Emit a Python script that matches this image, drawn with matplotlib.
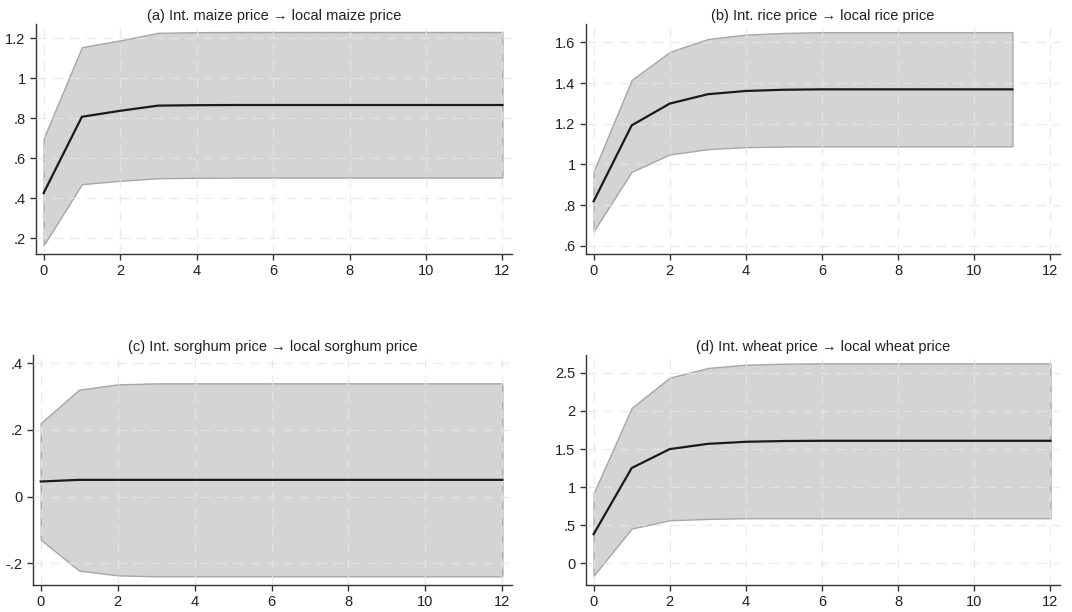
import matplotlib
matplotlib.use("Agg")
import matplotlib.pyplot as plt

plt.rcParams['font.family'] = ['Liberation Sans', 'DejaVu Sans']

# impulse responses: point estimate with lower / upper confidence bands
horizon = list(range(13))

maize_irf = [0.425, 0.806, 0.836, 0.862, 0.864, 0.865, 0.865, 0.865, 0.865, 0.865, 0.865, 0.865, 0.865]
maize_lo = [0.163, 0.469, 0.486, 0.499, 0.501, 0.502, 0.502, 0.502, 0.502, 0.502, 0.502, 0.502, 0.502]
maize_hi = [0.698, 1.154, 1.188, 1.226, 1.229, 1.230, 1.230, 1.230, 1.230, 1.230, 1.230, 1.230, 1.230]

rice_horizon = list(range(12))
rice_irf = [0.819, 1.192, 1.299, 1.345, 1.361, 1.367, 1.369, 1.369, 1.369, 1.369, 1.369, 1.369]
rice_lo = [0.672, 0.964, 1.049, 1.075, 1.085, 1.088, 1.089, 1.089, 1.089, 1.089, 1.089, 1.089]
rice_hi = [0.966, 1.415, 1.553, 1.616, 1.638, 1.646, 1.650, 1.650, 1.650, 1.650, 1.650, 1.650]

sorghum_irf = [0.045, 0.050, 0.050, 0.050, 0.050, 0.050, 0.050, 0.050, 0.050, 0.050, 0.050, 0.050, 0.050]
sorghum_lo = [-0.129, -0.222, -0.236, -0.239, -0.239, -0.239, -0.239, -0.239, -0.239, -0.239, -0.239, -0.239, -0.239]
sorghum_hi = [0.220, 0.320, 0.336, 0.339, 0.339, 0.339, 0.339, 0.339, 0.339, 0.339, 0.339, 0.339, 0.339]

wheat_irf = [0.38, 1.25, 1.499, 1.568, 1.595, 1.605, 1.608, 1.608, 1.608, 1.608, 1.608, 1.608, 1.608]
wheat_lo = [-0.166, 0.454, 0.563, 0.581, 0.590, 0.590, 0.590, 0.590, 0.590, 0.590, 0.590, 0.590, 0.590]
wheat_hi = [0.917, 2.04, 2.438, 2.565, 2.608, 2.622, 2.626, 2.626, 2.626, 2.626, 2.626, 2.626, 2.626]

titles = ["(a) Int. maize price \u2192 local maize price",
          "(b) Int. rice price \u2192 local rice price",
          "(c) Int. sorghum price \u2192 local sorghum price",
          "(d) Int. wheat price \u2192 local wheat price"]

yticks = [[0.2, 0.4, 0.6, 0.8, 1.0, 1.2],
          [0.6, 0.8, 1.0, 1.2, 1.4, 1.6],
          [-0.2, 0.0, 0.2, 0.4],
          [0.0, 0.5, 1.0, 1.5, 2.0, 2.5]]
yticklabels = [[".2", ".4", ".6", ".8", "1", "1.2"],
               [".6", ".8", "1", "1.2", "1.4", "1.6"],
               ["-.2", "0", ".2", ".4"],
               ["0", ".5", "1", "1.5", "2", "2.5"]]
ylims = [(0.12, 1.27), (0.56, 1.69), (-0.265, 0.424), (-0.288, 2.736)]

panels = [(horizon, maize_irf, maize_lo, maize_hi),
          (rice_horizon, rice_irf, rice_lo, rice_hi),
          (horizon, sorghum_irf, sorghum_lo, sorghum_hi),
          (horizon, wheat_irf, wheat_lo, wheat_hi)]

W, H = 1072, 612
fig = plt.figure(figsize=(W / 100, H / 100), dpi=100)

# axes boxes in pixels: left, top, right, bottom
boxes = [(36, 24, 512, 254), (586, 24, 1060, 254),
         (33, 355, 512, 585), (586, 355, 1060, 585)]

for i, (box, (x, m, lo, hi)) in enumerate(zip(boxes, panels)):
    l, t, r, b = box
    ax = fig.add_axes([l / W, 1 - b / H, (r - l) / W, (b - t) / H])
    ax.fill_between(x, lo, hi, facecolor='#d4d4d4', edgecolor='#a6a6a6', linewidth=1.0, zorder=1)
    ax.plot(x, m, color='#1a1a1a', linewidth=1.6, zorder=3)

    ax.set_xlim(-0.2, 12.25)
    ax.set_ylim(*ylims[i])
    ax.set_xticks(range(0, 13, 2))
    ax.set_yticks(yticks[i])
    ax.set_yticklabels(yticklabels[i])

    ax.grid(True, color='#e6e6e6', linestyle=(0, (7, 5)), linewidth=1.0, alpha=0.8, zorder=2)
    ax.set_axisbelow(False)
    for sp in ['top', 'right']:
        ax.spines[sp].set_visible(False)
    for sp in ['left', 'bottom']:
        ax.spines[sp].set_color('#333333')
        ax.spines[sp].set_linewidth(1.0)
    ax.tick_params(axis='both', colors='#333333', labelcolor='#222222', labelsize=10.5,
                   length=4, width=1.0, direction='out')
    ax.set_title(titles[i], fontsize=10.5, color='#222222', pad=3)

fig.savefig("out.png", dpi=100, facecolor='white')
